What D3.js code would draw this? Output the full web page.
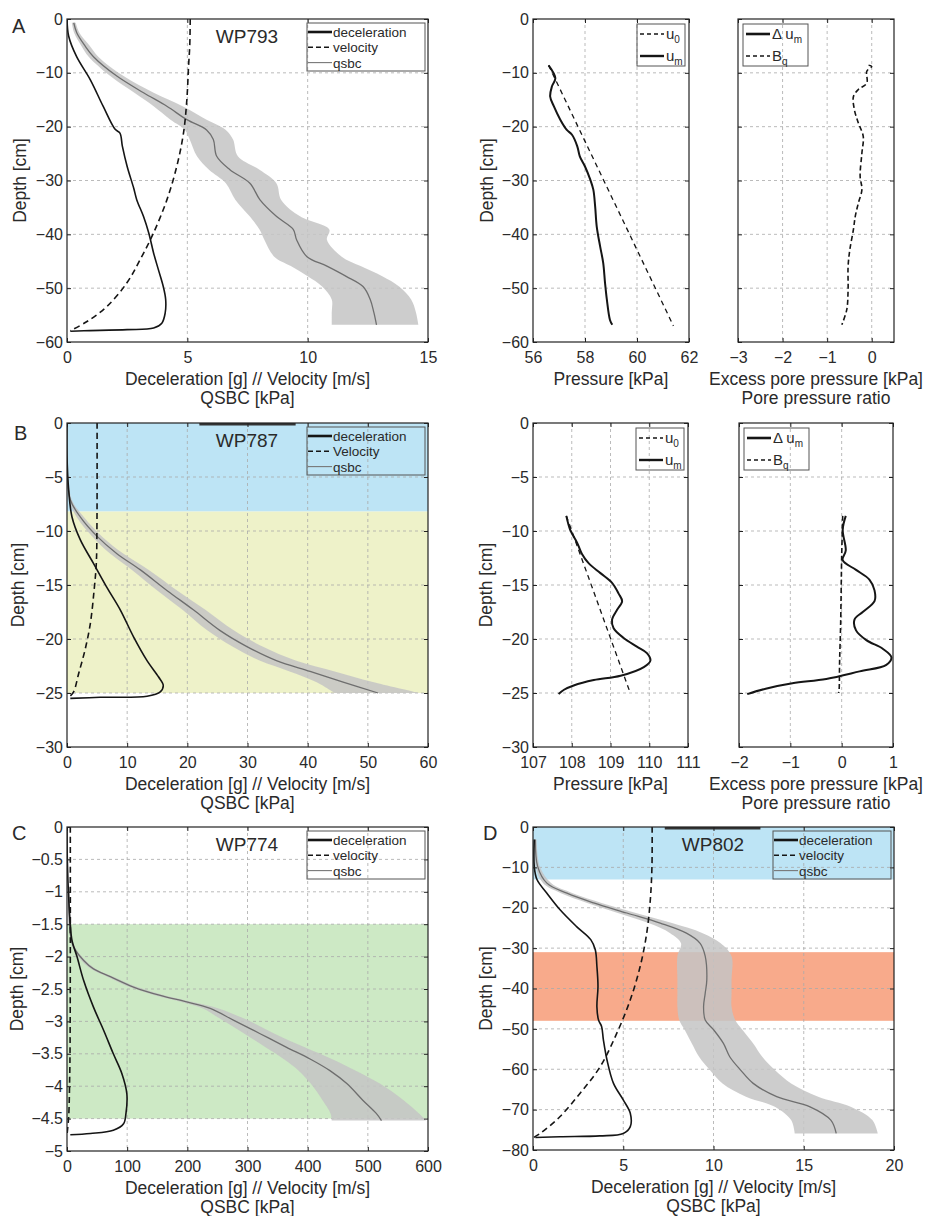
<!DOCTYPE html>
<html>
<head>
<meta charset="utf-8">
<script src="https://cdn.jsdelivr.net/npm/d3@7"></script>
<style>
body { margin: 0; background: #fff; }
svg text { font-family: "Liberation Sans", Arial, sans-serif; fill: #2a2a2a; }
</style>
</head>
<body>
<svg id="fig" width="927" height="1216"></svg>
<script>
// ---- data: [value, depth] pairs, qsbc rows are [depth, qsbc, lower, upper] ----
const aDecel = [[0,0],[0.07,-3.2],[0.4,-7],[0.97,-11.3],[1.5,-16.2],[2.0,-20.5],[2.2,-21.2],[2.3,-23.6],[2.5,-27.4],[2.77,-31.4],[2.9,-33.6],[3.18,-36.7],[3.4,-39.8],[3.6,-43.5],[3.8,-46.6],[4.0,-49.7],[4.1,-52.1],[4.08,-54.6],[3.94,-56.5],[3.6,-57.4],[2.5,-57.7],[0.7,-57.9],[0.14,-58]];
const aVel = [[5.12,0],[5.1,-5],[5.05,-8.8],[4.98,-15],[4.84,-21.2],[4.56,-27.4],[4.15,-33.6],[3.6,-39.7],[3.04,-44.7],[2.49,-49],[1.66,-53.4],[0.83,-56.2],[0.14,-57.9]];
const aQsbc = [[-0.7,0.28,0.2,0.36],[-2.6,0.41,0.3,0.52],[-5,0.75,0.6,0.95],[-7,1.1,0.9,1.3],[-10.6,2.07,1.8,2.35],[-13.7,3.18,2.8,3.6],[-16.2,4.15,3.6,4.8],[-18.7,4.98,4.3,5.8],[-20.6,5.8,4.9,6.6],[-22.4,6.08,5.1,6.9],[-25.5,6.22,5.4,7.1],[-28,6.77,5.9,8.0],[-30.5,7.6,6.6,8.7],[-33.6,8.02,7.0,8.9],[-36.7,8.71,7.6,9.7],[-39.1,9.4,8.0,10.9],[-41,9.54,8.2,10.8],[-44.1,9.96,8.6,11.4],[-45.9,10.8,9.3,12.2],[-47.8,11.6,10.0,13.1],[-49.7,12.3,10.6,13.8],[-52.1,12.6,11.0,14.3],[-54.5,12.75,11.0,14.5],[-56.8,12.86,11.0,14.6]];
const aUm = [[56.6,-8.6],[56.86,-11],[56.73,-12.5],[56.66,-14.4],[56.8,-16.2],[57.05,-18.7],[57.3,-20.6],[57.5,-21.5],[57.7,-23.6],[57.8,-25.5],[58.0,-27.4],[58.2,-29.8],[58.32,-31.7],[58.39,-34.8],[58.45,-38.5],[58.58,-42.2],[58.7,-45.3],[58.77,-49],[58.84,-52.1],[58.96,-55.9],[59.05,-56.8]];
const aU0 = [[56.6,-8.6],[61.4,-57]];
const aBq = [[-0.07,-8.6],[0,-8.8],[-0.11,-9.7],[-0.11,-11.9],[-0.3,-13.1],[-0.41,-14.4],[-0.39,-16.8],[-0.3,-19.3],[-0.19,-21.8],[-0.22,-24.9],[-0.26,-29.2],[-0.22,-31.7],[-0.3,-34.2],[-0.37,-36.7],[-0.41,-39.1],[-0.49,-42.8],[-0.53,-46],[-0.53,-50.3],[-0.56,-54],[-0.67,-56.8]];

const bDecel = [[0,0],[0,-3],[0.28,-6.2],[0.83,-8.7],[2.2,-10.8],[4.4,-13],[6.6,-15.2],[8.85,-17.3],[11.06,-19.8],[13.3,-22],[15.2,-23.5],[16.0,-24.3],[15.5,-24.9],[13.3,-25.3],[5.5,-25.4],[0.55,-25.5]];
const bVel = [[5.0,0],[4.98,-9.3],[4.87,-13],[4.5,-15.5],[3.87,-18.6],[3.0,-21],[1.94,-23.2],[1.1,-24.9],[0.5,-25.3]];
const bQsbc = [[-4.3,0,0,0.1],[-7.1,0.55,0.3,0.8],[-8.7,2.2,1.6,2.8],[-10.5,5.0,4.2,5.8],[-12.1,8.3,7.2,9.4],[-13.6,12.2,10.8,13.6],[-15.5,16.6,15.0,18.3],[-17.3,21,19.2,23],[-19.2,25.4,23.3,27.7],[-20.7,29.9,27.5,32.5],[-22,34.8,32,38],[-23,40.4,37,44.5],[-24,45.9,41.5,51],[-25,51.7,44.5,58.6]];
const bUm = [[107.86,-8.6],[107.96,-9.9],[108.14,-11.1],[108.26,-12.1],[108.44,-13],[108.74,-13.9],[109.04,-14.8],[109.21,-15.8],[109.3,-16.5],[109.17,-17.3],[109.04,-18.2],[109.08,-19],[109.34,-19.9],[109.68,-20.7],[109.94,-21.3],[110.03,-22],[109.86,-22.6],[109.26,-23.4],[108.57,-23.8],[108.05,-24.3],[107.8,-24.7],[107.66,-25.1]];
const bU0 = [[107.86,-8.6],[109.5,-24.9]];
const bDum = [[0.08,-8.6],[0.02,-9.9],[0.08,-11.8],[0.02,-12.7],[0.28,-13.6],[0.54,-14.5],[0.64,-15.5],[0.64,-16.5],[0.41,-17.5],[0.25,-18.2],[0.28,-19.2],[0.48,-20.1],[0.8,-20.9],[0.97,-21.7],[0.87,-22.4],[0.35,-23.0],[-0.3,-23.7],[-0.96,-24.1],[-1.48,-24.6],[-1.84,-25.1]];
const bBq = [[0.02,-8.6],[0.0,-12.4],[-0.02,-18.6],[-0.04,-22],[-0.05,-24.7],[-0.06,-25.0]];

const cDecel = [[0,0],[0.5,-0.5],[3,-1.13],[5.5,-1.5],[8.3,-1.75],[16.6,-2.0],[27.7,-2.37],[44,-2.78],[61,-3.14],[77,-3.5],[91,-3.8],[99.5,-4.12],[98,-4.42],[94,-4.58],[77,-4.68],[39,-4.73],[5.5,-4.75]];
const cVel = [[5.5,0],[5.5,-2],[5,-3.5],[4.4,-3.9],[2.8,-4.47],[0,-4.75]];
const cQsbc = [[-0.93,2.8,2.5,3.1],[-1.65,5.5,5,6],[-1.85,11,9,13],[-2.06,27.7,24,31],[-2.19,44,40,48],[-2.31,72,67,77],[-2.47,110.6,104,117],[-2.6,155,147,163],[-2.7,199,190,209],[-2.8,238,226,252],[-2.98,276.5,258,300],[-3.19,321,295,345],[-3.4,365,330,395],[-3.58,404,360,440],[-3.76,437,385,480],[-3.96,465,405,520],[-4.22,492,425,560],[-4.42,514,438,585],[-4.53,522.7,440,597]];

const dDecel = [[0.07,-3.1],[0.07,-9.8],[0.22,-13],[0.77,-16.4],[1.5,-20.5],[2.4,-24.6],[3.2,-27.9],[3.45,-30.4],[3.54,-34.5],[3.6,-39.5],[3.54,-44.5],[3.63,-47.8],[3.8,-49.4],[3.9,-52.7],[4.1,-57.7],[4.46,-63.5],[5.0,-67.6],[5.39,-70.9],[5.39,-74.2],[5.0,-75.9],[3.7,-76.5],[1.5,-76.7],[0.13,-76.9]];
const dVel = [[6.6,0],[6.59,-9.8],[6.5,-18],[6.3,-26.3],[5.94,-34.5],[5.39,-42.8],[4.65,-51],[3.73,-59.3],[2.6,-66],[1.5,-71.7],[0.4,-75.9],[0.04,-76.9]];
const dQsbc = [[-3.1,0.13,0.05,0.2],[-9.8,0.26,0.15,0.38],[-13.9,0.77,0.55,1.0],[-16.4,1.88,1.55,2.2],[-18.8,3.36,3.0,3.8],[-21.3,5.2,4.7,5.7],[-23.8,7.05,6.4,7.7],[-26.3,8.5,7.6,9.4],[-28.8,9.26,8.2,10.4],[-32,9.54,8.0,11.0],[-37.8,9.63,8.0,11.0],[-41.2,9.54,8.0,11.0],[-44.5,9.45,8.0,11.0],[-47.8,9.54,8.1,11.2],[-50.2,10,8.4,11.6],[-53.6,10.55,8.8,12.2],[-56.9,10.9,9.2,12.7],[-60.2,11.5,9.8,13.4],[-63.5,12.2,10.5,14.3],[-66.8,13.5,11.8,15.8],[-69.3,15.35,13.4,17.6],[-72.6,16.5,14.3,18.8],[-75.9,16.8,14.5,19.1]];

// layer depth ranges [top, bottom]
const bLayers = [[0,-8.2],[-8.2,-25]];
const cLayers = [[-1.5,-4.5]];
const dLayers = [[0,-13],[-31,-48]];
// thick segment drawn on the surface (depth 0), x range
const bSurface = [22, 38];
const dSurface = [7.3, 12.6];

const svg = d3.select("#fig");
const fmt = d3.format("~g");
let clipId = 0;

function curveLine(x, y) {
    return d3.line().x(d => x(d[0])).y(d => y(d[1])).curve(d3.curveCatmullRom.alpha(0.5));
}

function panel(o) {
    const x = d3.scaleLinear().domain(o.xDomain).range([o.left, o.right]);
    const y = d3.scaleLinear().domain(o.yDomain).range([o.bottom, o.top]);
    const g = svg.append("g");
    const id = "clip" + (clipId++);
    g.append("clipPath").attr("id", id).append("rect")
        .attr("x", o.left).attr("y", o.top)
        .attr("width", o.right - o.left).attr("height", o.bottom - o.top);
    const plot = g.append("g").attr("clip-path", `url(#${id})`);

    (o.layers || []).forEach((l, i) => {
        plot.append("rect")
            .attr("x", o.left).attr("width", o.right - o.left)
            .attr("y", y(l[0])).attr("height", y(l[1]) - y(l[0]))
            .attr("fill", o.layerColors[i]);
    });

    // dashed grid
    o.xTicks.forEach(t => {
        if (x(t) <= o.left + 1 || x(t) >= o.right - 1) return;
        plot.append("line").attr("x1", x(t)).attr("x2", x(t)).attr("y1", o.top).attr("y2", o.bottom)
            .attr("stroke", "#aaa").attr("stroke-width", 0.8).attr("stroke-dasharray", "3,3");
    });
    o.yTicks.forEach(t => {
        if (y(t) <= o.top + 1 || y(t) >= o.bottom - 1) return;
        plot.append("line").attr("y1", y(t)).attr("y2", y(t)).attr("x1", o.left).attr("x2", o.right)
            .attr("stroke", "#aaa").attr("stroke-width", 0.8).attr("stroke-dasharray", "3,3");
    });

    if (o.band) {
        plot.append("path").datum(o.band)
            .attr("d", d3.area().y(d => y(d[0])).x0(d => x(d[2])).x1(d => x(d[3])).curve(d3.curveCatmullRom.alpha(0.5)))
            .attr("fill", "#c4c4c4").attr("opacity", 0.85);
        plot.append("path").datum(o.band.map(d => [d[1], d[0]]))
            .attr("d", curveLine(x, y)).attr("fill", "none")
            .attr("stroke", "#6e6e6e").attr("stroke-width", 1.3);
    }
    (o.series || []).forEach(s => {
        const gen = s.straight ? d3.line().x(d => x(d[0])).y(d => y(d[1])) : curveLine(x, y);
        plot.append("path").datum(s.data).attr("d", gen).attr("fill", "none")
            .attr("stroke", "#151515").attr("stroke-width", s.width)
            .attr("stroke-dasharray", s.dash || null);
    });
    if (o.surface) {
        plot.append("line").attr("x1", x(o.surface[0])).attr("x2", x(o.surface[1]))
            .attr("y1", y(0) + 1).attr("y2", y(0) + 1)
            .attr("stroke", "#333").attr("stroke-width", 3);
    }

    // axes with inward ticks
    g.append("g").attr("transform", `translate(0,${o.bottom})`)
        .call(d3.axisBottom(x).tickValues(o.xTicks).tickFormat(fmt).tickSizeInner(-4).tickSizeOuter(0).tickPadding(10));
    g.append("g").attr("transform", `translate(0,${o.top})`)
        .call(d3.axisTop(x).tickValues(o.xTicks).tickSizeInner(-4).tickSizeOuter(0).tickFormat(""));
    const left = g.append("g").attr("transform", `translate(${o.left},0)`)
        .call(d3.axisLeft(y).tickValues(o.yTicks).tickFormat(fmt).tickSizeInner(-4).tickSizeOuter(0).tickPadding(4));
    g.append("g").attr("transform", `translate(${o.right},0)`)
        .call(d3.axisRight(y).tickValues(o.yTicks).tickSizeInner(-4).tickSizeOuter(0).tickFormat(""));
    g.selectAll(".domain").remove();
    g.selectAll(".tick line").attr("stroke", "#222");
    g.selectAll(".tick text").attr("font-size", "16px").attr("font-family", null).attr("fill", "#2a2a2a");
    if (o.noYLabels) left.selectAll(".tick text").remove();

    g.append("rect").attr("x", o.left).attr("y", o.top)
        .attr("width", o.right - o.left).attr("height", o.bottom - o.top)
        .attr("fill", "none").attr("stroke", "#222").attr("stroke-width", 1.2);

    const cx = (o.left + o.right) / 2;
    o.xLabel.forEach((t, i) => {
        g.append("text").attr("x", cx).attr("y", o.bottom + 43 + i * 19)
            .attr("text-anchor", "middle").attr("font-size", "17.5px").text(t);
    });
    if (o.yLabel) {
        g.append("text").attr("transform", `translate(${o.yLabelX},${(o.top + o.bottom) / 2}) rotate(-90)`)
            .attr("text-anchor", "middle").attr("dy", "0.35em").attr("font-size", "17.5px").text(o.yLabel);
    }
    if (o.letter) {
        g.append("text").attr("x", o.letter[0]).attr("y", o.letter[1]).attr("font-size", "20px").text(o.letter[2]);
    }
    if (o.title) {
        g.append("text").attr("x", o.left + 180).attr("y", o.top + 24)
            .attr("text-anchor", "middle").attr("font-size", "19px").text(o.title);
    }
    if (o.legend) o.legend(g, o);
    return g;
}

function mainLegend(velName) {
    return (g, o) => {
        const lx = o.right - 121, ly = o.top + 4;
        g.append("rect").attr("x", lx).attr("y", ly).attr("width", 118).attr("height", 48)
            .attr("fill", "none").attr("stroke", "#555").attr("stroke-width", 1);
        const rows = [
            { label: "deceleration", width: 2.6, color: "#151515" },
            { label: velName, width: 1.6, color: "#151515", dash: "5,3" },
            { label: "qsbc", width: 1.1, color: "#777" }
        ];
        rows.forEach((r, i) => {
            const yy = ly + 9 + i * 15.3;
            g.append("line").attr("x1", lx + 1).attr("x2", lx + 25).attr("y1", yy).attr("y2", yy)
                .attr("stroke", r.color).attr("stroke-width", r.width).attr("stroke-dasharray", r.dash || null);
            g.append("text").attr("x", lx + 26).attr("y", yy + 5).attr("font-size", "13.5px").text(r.label);
        });
    };
}

function subLegend(rows, atLeft, w) {
    return (g, o) => {
        const lx = atLeft ? o.left + 5 : o.right - w - 4, ly = o.top + 5;
        g.append("rect").attr("x", lx).attr("y", ly).attr("width", w).attr("height", 42)
            .attr("fill", "none").attr("stroke", "#555").attr("stroke-width", 1);
        rows.forEach((r, i) => {
            const yy = ly + 10 + i * 22;
            g.append("line").attr("x1", lx + 3).attr("x2", lx + 27).attr("y1", yy).attr("y2", yy)
                .attr("stroke", "#151515").attr("stroke-width", r.width).attr("stroke-dasharray", r.dash || null);
            const t = g.append("text").attr("x", lx + 29).attr("y", yy + 5).attr("font-size", "15px");
            t.append("tspan").text(r.main);
            t.append("tspan").attr("font-size", "10px").attr("dy", 4).text(r.sub);
        });
    };
}

const pressRows = [{ main: "u", sub: "0", width: 1.3, dash: "4,3" }, { main: "u", sub: "m", width: 2.4 }];
const excessRows = [{ main: "\u0394 u", sub: "m", width: 2.6 }, { main: "B", sub: "q", width: 1.6, dash: "4,3" }];
const mainLabel = ["Deceleration [g] // Velocity [m/s]", "QSBC [kPa]"];
const excessLabel = ["Excess pore pressure [kPa]", "Pore pressure ratio"];

// ---- A ----
panel({ left: 67, right: 428, top: 19, bottom: 342, xDomain: [0, 15], yDomain: [-60, 0],
    xTicks: [0, 5, 10, 15], yTicks: d3.range(-60, 1, 10),
    band: aQsbc,
    series: [{ data: aDecel, width: 1.6 }, { data: aVel, width: 1.6, dash: "6,4" }],
    xLabel: mainLabel, yLabel: "Depth [cm]", yLabelX: 20, letter: [12, 33, "A"], title: "WP793",
    legend: mainLegend("velocity") });
panel({ left: 533, right: 689, top: 19, bottom: 342, xDomain: [56, 62], yDomain: [-60, 0],
    xTicks: [56, 58, 60, 62], yTicks: d3.range(-60, 1, 10),
    series: [{ data: aUm, width: 2.0 }, { data: aU0, width: 1.3, dash: "5,4", straight: true }],
    xLabel: ["Pressure [kPa]"], yLabel: "Depth [cm]", yLabelX: 487,
    legend: subLegend(pressRows, false, 48) });
panel({ left: 738, right: 894, top: 19, bottom: 342, xDomain: [-3, 0.5], yDomain: [-60, 0],
    xTicks: [-3, -2, -1, 0], yTicks: d3.range(-60, 1, 10), noYLabels: true,
    series: [{ data: aBq, width: 1.6, dash: "5,3" }],
    xLabel: excessLabel, legend: subLegend(excessRows, true, 65) });

// ---- B ----
panel({ left: 67, right: 428, top: 423, bottom: 747, xDomain: [0, 60], yDomain: [-30, 0],
    xTicks: d3.range(0, 61, 10), yTicks: d3.range(-30, 1, 5),
    layers: bLayers, layerColors: ["#bde4f5", "#eef2c9"], surface: bSurface,
    band: bQsbc,
    series: [{ data: bDecel, width: 1.6 }, { data: bVel, width: 1.6, dash: "6,4" }],
    xLabel: mainLabel, yLabel: "Depth [cm]", yLabelX: 18, letter: [14, 440, "B"], title: "WP787",
    legend: mainLegend("Velocity") });
panel({ left: 533, right: 688, top: 423, bottom: 747, xDomain: [107, 111], yDomain: [-30, 0],
    xTicks: d3.range(107, 112, 1), yTicks: d3.range(-30, 1, 5),
    series: [{ data: bUm, width: 2.0 }, { data: bU0, width: 1.3, dash: "5,4", straight: true }],
    xLabel: ["Pressure [kPa]"], yLabel: "Depth [cm]", yLabelX: 486,
    legend: subLegend(pressRows, false, 48) });
panel({ left: 739, right: 893, top: 423, bottom: 747, xDomain: [-2, 1], yDomain: [-30, 0],
    xTicks: [-2, -1, 0, 1], yTicks: d3.range(-30, 1, 5), noYLabels: true,
    series: [{ data: bDum, width: 2.0 }, { data: bBq, width: 1.6, dash: "5,3" }],
    xLabel: excessLabel, legend: subLegend(excessRows, true, 65) });

// ---- C ----
panel({ left: 67, right: 428, top: 827, bottom: 1151, xDomain: [0, 600], yDomain: [-5, 0],
    xTicks: d3.range(0, 601, 100), yTicks: d3.range(-10, 1, 1).map(v => v / 2),
    layers: cLayers, layerColors: ["#cde9c5"],
    band: cQsbc,
    series: [{ data: cDecel, width: 1.6 }, { data: cVel, width: 1.6, dash: "6,4" }],
    xLabel: mainLabel, yLabel: "Depth [cm]", yLabelX: 17, letter: [12, 840, "C"], title: "WP774",
    legend: mainLegend("velocity") });

// ---- D ----
panel({ left: 533, right: 894, top: 827, bottom: 1150, xDomain: [0, 20], yDomain: [-80, 0],
    xTicks: [0, 5, 10, 15, 20], yTicks: d3.range(-80, 1, 10),
    layers: dLayers, layerColors: ["#bde4f5", "#f8aa8b"], surface: dSurface,
    band: dQsbc,
    series: [{ data: dDecel, width: 1.6 }, { data: dVel, width: 1.6, dash: "6,4" }],
    xLabel: mainLabel, yLabel: "Depth [cm]", yLabelX: 486, letter: [483, 840, "D"], title: "WP802",
    legend: mainLegend("velocity") });
</script>
</body>
</html>
